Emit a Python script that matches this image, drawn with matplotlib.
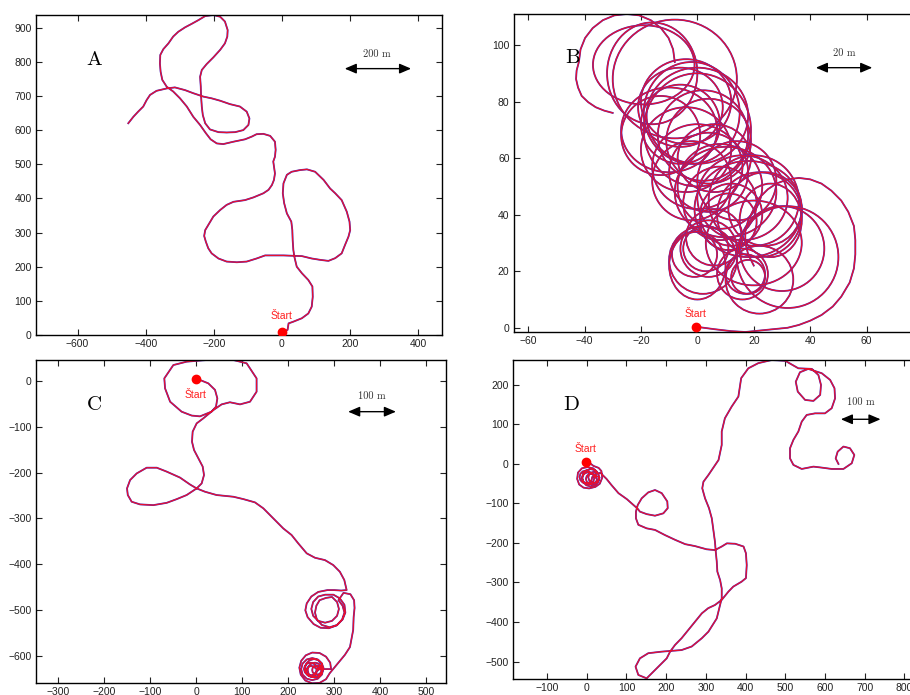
import matplotlib
matplotlib.use("Agg")
import matplotlib.pyplot as plt
from matplotlib.patches import Ellipse

plt.rcParams["font.family"] = ["Liberation Sans", "DejaVu Sans"]

# ---- Panel A trajectory (m) ----
a_x = [0, 17, 20, 34, 59, 78, 88, 91, 90, 78,
       59, 44, 37, 34, 32, 31, 28, 15, 7, 3,
       5, 15, 29, 54, 74, 98, 123, 142, 157, 176,
       191, 199, 201, 196, 186, 176, 157, 137, 113, 88,
       59, 34, 5, -25, -49, -74, -103, -132, -162, -186,
       -206, -216, -223, -228, -225, -216, -201, -181, -162, -142,
       -108, -83, -54, -39, -29, -23, -20, -23, -25, -20,
       -18, -20, -34, -54, -74, -88, -108, -142, -172, -191,
       -209, -223, -240, -260, -279, -299, -319, -338, -351, -356,
       -358, -357, -348, -333, -319, -304, -284, -265, -245, -225,
       -201, -181, -167, -159, -160, -167, -181, -201, -221, -235,
       -240, -238, -237, -235, -232, -225, -211, -186, -162, -137,
       -113, -98, -95, -103, -123, -152, -181, -206, -230, -260,
       -284, -314, -338, -368, -387, -397, -407, -422, -436, -451]
a_y = [8, 15, 34, 39, 49, 63, 83, 112, 142, 161,
       181, 200, 229, 249, 278, 307, 332, 356, 386, 415,
       444, 469, 478, 483, 485, 478, 454, 429, 415, 395,
       361, 332, 307, 288, 264, 239, 225, 217, 220, 224,
       231, 232, 233, 233, 233, 224, 215, 213, 215, 224,
       239, 254, 273, 290, 307, 322, 347, 366, 381, 390,
       395, 403, 415, 425, 439, 454, 473, 493, 508, 522,
       542, 566, 583, 589, 588, 581, 573, 566, 559, 561,
       573, 591, 615, 639, 669, 693, 713, 727, 747, 771,
       795, 820, 837, 854, 874, 888, 901, 911, 922, 934,
       937, 932, 918, 893, 874, 854, 835, 813, 793, 776,
       756, 727, 698, 669, 644, 620, 602, 594, 593, 594,
       600, 615, 634, 654, 669, 676, 686, 693, 698, 708,
       717, 725, 722, 715, 703, 688, 669, 654, 639, 620]

# ---- Panel B (m): start run with the wide loop, the circling loops, the last arc ----
b_run_x = [0, 6, 12, 17, 22, 27, 32, 36, 40, 44, 48, 51, 54, 55.5, 56, 56, 55.5,
           53.5, 51, 47.5, 44, 40, 36, 32, 28, 25, 22, 20, 18, 17, 17, 18, 20]
b_run_y = [0.3, -0.5, -1.2, -1.5, -1, -0.5, 0, 1, 2.5, 4.5, 7.5, 11, 16, 21, 26, 31, 36,
           41, 45, 48.5, 51, 52.5, 53, 52.5, 51, 49, 46, 42, 38, 34, 30, 26, 22]
b_loop_cx = [-19, -16, -8, -6, -4, -2, 0, -10, -13, 2, -4, -6, 4, 0,
             0, 4, 6, 8, 14, 10, 16, 20, 22, 24, 18, 26, 12, 11, 8, -2,
             4, 3, 2, -1, 6, 0, 17, 16, 18, 22, 30, 32, 20]
b_loop_cy = [93, 90, 88, 78, 80, 76, 75, 70, 68, 68, 63, 72, 66, 70,
             57, 55, 60, 50, 52, 48, 46, 45, 40, 42, 42, 38, 40, 37.5, 44, 52,
             28, 28, 24, 26, 32, 22, 19, 19, 18, 17, 28, 25, 30]
b_loop_w = [36, 32, 44, 30, 32, 34, 36, 34, 28, 32, 32, 28, 30, 38,
            32, 28, 26, 30, 28, 36, 32, 32, 30, 26, 38, 22, 22, 20, 26, 28,
            20, 16, 24, 16, 20, 20, 14, 18, 12, 24, 30, 36, 34]
b_loop_h = [28, 36, 42, 28, 30, 36, 34, 30, 28, 32, 30, 28, 30, 40,
            30, 28, 24, 30, 28, 32, 30, 32, 30, 26, 34, 26, 22, 20, 26, 28,
            20, 16, 24, 16, 20, 24, 14, 18, 12, 24, 30, 36, 30]
b_end_x = [-8, -8.6, -10.2, -12.9, -16.5, -20.6, -25, -29.4, -33.5, -37.1, -39.8,
           -41.4, -42, -42.8, -43, -42.3, -41, -38.7, -36, -33, -30]
b_end_y = [94, 98.5, 102.5, 106, 108.8, 110.5, 111, 110.5, 108.8, 106, 102.5,
           98.5, 94, 91, 88, 85, 82, 79.8, 78, 76.8, 76]

# ---- Panel C trajectory (m) ----
c_route_x = [-1.4, 8, 26, 40.6, 45.7, 42.8, 33, 8, -10, -32,
             -57, -68, -69.6, -50, -21, 22.5, 80.4, 109.4, 131, 131,
             116.7, 95, 73, 55, 37, 15.2, 0.7, -8, -9.4, -5,
             4.3, 13.8, 16.7, 11.6, 0.7, -21, -42.8, -64.5, -93.5, -122.5,
             -140.6, -149, -150.7, -144, -129.7, -108, -86, -64.5, -35.5, -13.8,
             0.7, 18.8, 44, 80.4, 102, 127.5, 145.7, 167.4, 189, 207,
             221.7, 240, 258, 279.7, 297.8, 312, 321.7, 326.8]
c_route_y = [2.9, 1.5, -5.8, -20, -38.5, -56.6, -67.5, -77.7, -76, -67.5,
             -45.8, -16.7, 5, 34, 41.4, 45, 45, 37.8, 5, -24,
             -45.8, -51.6, -47, -51.6, -64, -82, -93, -111, -133, -151,
             -169, -187, -205.5, -223.7, -234.6, -249, -258, -266, -271, -269.4,
             -263.6, -249, -234.6, -216.4, -202, -189.5, -189.5, -198, -211, -226,
             -234.6, -241.8, -249, -252.7, -257.8, -265, -278, -300, -321.7, -336,
             -354.4, -376, -385.6, -390.7, -401.6, -416, -434, -456]
c_loops_x = [315, 300, 285, 265, 250, 240, 237, 242, 255, 270, 288, 305, 318, 324, 322, 312, 298,
             280, 265, 254, 250, 254, 265, 280, 295, 306, 310, 306, 295,
             282, 268, 261, 258, 262, 273, 290, 306, 317, 322, 318, 309,
             320, 335, 343, 344, 342, 341, 334, 323, 305, 290,
             282, 268, 252, 237, 227, 224, 228, 238, 252, 268, 282, 291, 293,
             276, 273, 264, 252, 240, 231, 228, 231, 240, 252, 264, 273,
             274, 272, 266, 258, 250, 244, 242, 244, 250, 258, 266, 272,
             262, 260, 255, 248, 241, 236, 234, 236, 241, 248, 255, 260,
             272, 271, 267, 262, 257, 253, 252, 253, 257, 262, 267, 271,
             262, 260, 256, 250, 244, 240, 238, 240, 244, 250, 256, 260,
             276, 273, 266, 256, 246, 239, 236, 239, 246, 256, 266, 273, 276]
c_loops_y = [-457, -456, -456, -460, -470, -485, -500, -515, -530, -538, -539, -533, -520, -505, -488, -474, -466,
             -466, -470, -482, -497, -512, -523, -527, -523, -512, -497, -482, -471,
             -473, -478, -490, -505, -520, -532, -537, -532, -520, -505, -490, -478,
             -462, -465, -478, -495, -515, -543, -580, -597, -619, -637,
             -650, -658, -659, -653, -640, -625, -610, -598, -592, -593, -601, -614, -628,
             -628, -640, -649, -652, -649, -640, -628, -616, -607, -604, -607, -616,
             -630, -638, -644, -646, -644, -638, -630, -622, -616, -614, -616, -622,
             -628, -635, -640, -642, -640, -635, -628, -621, -616, -614, -616, -621,
             -630, -635, -639, -640, -639, -635, -630, -625, -621, -620, -621, -625,
             -633, -639, -643, -645, -643, -639, -633, -627, -623, -621, -623, -627,
             -626, -636, -643, -646, -643, -636, -626, -616, -609, -606, -609, -616, -624]

# ---- Panel D trajectory (m) ----
d_loops_x = [-2, 8, 17, 30, 37,
             39, 33, 22, 6, -8, -19, -24, -22, -12, 2, 16, 26,
             19, 17, 11.5, 4, -3.5, -9, -11, -9, -3.5, 4, 11.5, 17,
             26, 24, 19, 12, 5, 0, -2, 0, 5, 12, 19, 24,
             14, 12, 6, -2, -10, -16, -18, -16, -10, -2, 6, 12,
             32, 30, 25, 18, 11, 6, 4, 6, 11, 18, 25, 30,
             32, 29, 21, 10, -1, -9, -12, -9, -1, 10, 21, 29]
d_loops_y = [5, 2, -5, -10, -18,
             -35, -50, -58, -62, -60, -52, -38, -22, -11, -8, -11, -20,
             -36, -43.5, -49, -51, -49, -43.5, -36, -28.5, -23, -21, -23, -28.5,
             -38, -45, -50, -52, -50, -45, -38, -31, -26, -24, -26, -31,
             -33, -41, -47, -49, -47, -41, -33, -25, -19, -17, -19, -25,
             -34, -41, -46, -48, -46, -41, -34, -27, -22, -20, -22, -27,
             -35, -46, -54, -57, -54, -46, -35, -24, -16, -13, -16, -24]
d_route_x = [36, 38, 50, 62, 80, 101, 118, 128, 134, 151, 172, 193, 204, 203, 189, 172,
             155, 138.5, 128.5, 124, 124, 130, 151, 172, 197, 222.5, 248, 273, 302, 323,
             340, 353, 374, 395, 401, 403, 401, 390, 369, 357, 340, 323, 306, 290,
             273, 256, 239, 222.5, 210, 201.5, 172, 151, 130, 123, 134, 155, 189, 239,
             264.5, 290, 306.5, 327.5, 336, 340, 340, 336, 329, 327.5, 325, 323, 319, 315,
             308, 298, 291, 294, 306.5, 332, 340, 340, 348, 365, 382, 389, 407, 432,
             466, 500, 533, 567, 583.5, 590, 588, 571, 550, 531.5, 526.5, 537, 558, 592,
             613, 624, 625.5, 617, 600, 575, 554, 541.5, 533, 520.6, 512, 512, 520.6,
             541.5, 571, 592, 617, 646.5, 667.5, 674, 663, 646.5, 632, 627, 634]
d_route_y = [-22, -26, -38, -53, -74, -89, -104, -113, -120.7, -127, -131, -125, -112, -95, -74, -66,
             -72, -87, -104, -120.7, -137.6, -154, -163, -167, -180, -192, -203, -208, -216, -218,
             -209, -201, -202, -209, -226, -256, -289, -298, -310.5, -323, -344, -357, -365, -378,
             -399, -420, -441, -458, -475, -492, -521.5, -542.6, -534, -513, -492, -479, -475, -471,
             -462, -441, -424.5, -391, -357, -340, -315, -294, -272.5, -247, -222, -197, -167, -137.6,
             -112, -87, -61.6, -45, -28, 10, 48, 82, 115.6, 145, 170.5, 217, 242, 255,
             263, 261, 242, 240.5, 225, 200, 174.7, 159.5, 162, 183, 208, 232, 240.5, 229.5,
             212.7, 191.6, 166, 141, 128, 128, 124, 107, 82, 61, 39.7, 14, -2.5,
             -12.7, -6.8, -9.3, -12.7, -12.7, 1.7, 22.8, 39.7, 44, 31, 14, 0]

starts = {"A": (0, 8), "B": (-0.5, 0.3), "C": (-1.4, 2.9), "D": (-2, 5)}
scale_labels = {"A": "200 m", "B": "20 m", "C": "100 m", "D": "100 m"}

BLUE = "#4030c8"
RED = "#e8102e"


def track(ax, xs, ys):
    ax.plot(xs, ys, color=BLUE, lw=1.3, solid_joinstyle="round")
    ax.plot(xs, ys, color=RED, lw=0.9, solid_joinstyle="round")


def draw_panel(ax, letter, bar, label_pos, start_dy, xlim, ylim, xticks, yticks):
    sx, sy = starts[letter]
    ax.plot(sx, sy, "o", color="#ff0000", ms=6, zorder=5)
    ax.annotate("Štart", (sx, sy), xytext=(0, start_dy), textcoords="offset points",
                ha="center", va="center", color="#ff2020", fontsize=7.5)
    ax.text(0.143, 0.86, letter, transform=ax.transAxes, family="cmr10",
            fontsize=15, ha="center", va="center")
    ax.annotate("", xy=(bar[1], bar[2]), xytext=(bar[0], bar[2]),
                arrowprops=dict(arrowstyle="<|-|>,head_length=0.7,head_width=0.3",
                                color="black", lw=1.0, mutation_scale=10,
                                shrinkA=0, shrinkB=0))
    ax.text(label_pos[0], label_pos[1], scale_labels[letter], family="cmr10",
            fontsize=7.5, ha="center", va="center", color="#333333")
    ax.set_xlim(*xlim)
    ax.set_ylim(*ylim)
    ax.set_xticks(xticks)
    ax.set_yticks(yticks)
    ax.tick_params(direction="in", length=4, width=0.8, top=True, right=True,
                   labelsize=7.5, pad=3, colors="#222222")
    for sp in ax.spines.values():
        sp.set_linewidth(1.0)


fig = plt.figure(figsize=(9.1, 6.95), dpi=100)

ax_a = fig.add_axes([0.0396, 0.518, 0.4462, 0.4604])
track(ax_a, a_x, a_y)
draw_panel(ax_a, "A", (185, 380, 780), (278, 822), 12,
           (-722, 471), (0, 937), range(-600, 401, 200), range(0, 901, 100))

ax_b = fig.add_axes([0.5645, 0.5223, 0.452, 0.4576])
track(ax_b, b_run_x, b_run_y)
for cx, cy, w, h in zip(b_loop_cx, b_loop_cy, b_loop_w, b_loop_h):
    ax_b.add_patch(Ellipse((cx, cy), w, h, fill=False, ec=BLUE, lw=1.3))
    ax_b.add_patch(Ellipse((cx, cy), w, h, fill=False, ec=RED, lw=0.9))
track(ax_b, b_end_x, b_end_y)
draw_panel(ax_b, "B", (42, 62, 92), (52, 97), 9.6,
           (-65.1, 80.7), (-1.5, 111), range(-60, 61, 20), range(0, 101, 20))

ax_c = fig.add_axes([0.0396, 0.0168, 0.4505, 0.4652])
track(ax_c, c_route_x + c_loops_x, c_route_y + c_loops_y)
draw_panel(ax_c, "C", (330, 434, -67.5), (382, -33), -11,
           (-348.5, 542.8), (-659, 45), range(-300, 501, 100), range(-600, 1, 100))

ax_d = fig.add_axes([0.5634, 0.0226, 0.4531, 0.4594])
track(ax_d, d_loops_x + d_route_x, d_loops_y + d_route_y)
draw_panel(ax_d, "D", (640, 740, 113), (690, 155), 9,
           (-186.4, 852), (-545, 263), range(-100, 801, 100), range(-500, 201, 100))

fig.savefig("out.png", dpi=100)
